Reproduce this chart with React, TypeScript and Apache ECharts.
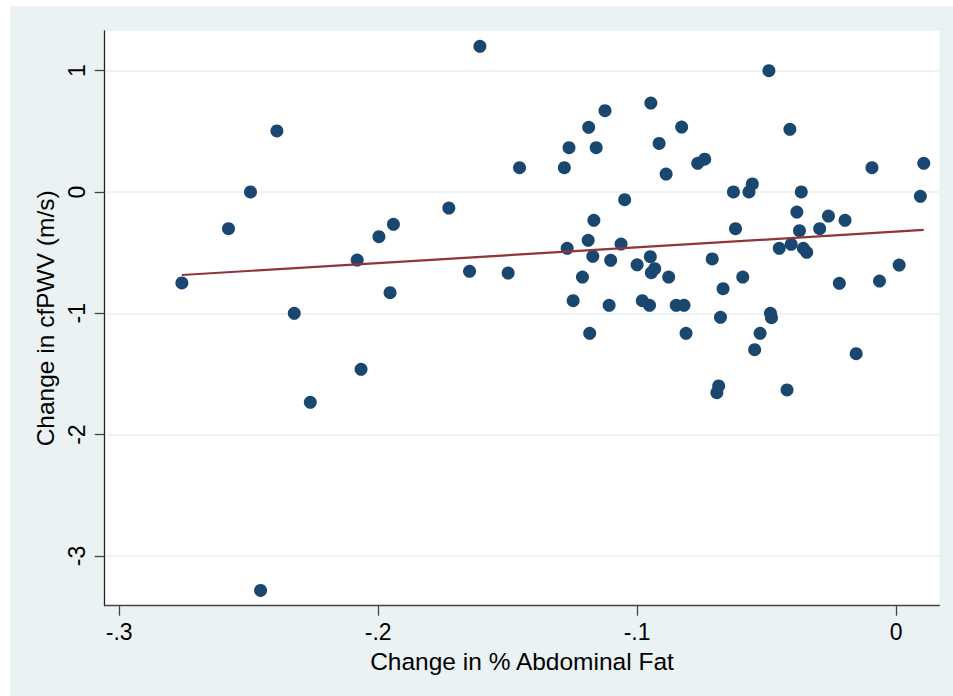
import React, { useEffect, useRef } from "react";
import * as echarts from "echarts";

// Change in % abdominal fat (x) and change in cfPWV in m/s (y), one entry per participant
const fatChange = [
  -0.2758, -0.2578, -0.2493, -0.2454, -0.2391, -0.2324, -0.2262, -0.2081, -0.2066, -0.1997,
  -0.1954, -0.1941, -0.1727, -0.1647, -0.1607, -0.1498, -0.1454, -0.1281, -0.127, -0.1263,
  -0.1247, -0.1211, -0.1189, -0.1187, -0.1183, -0.1171, -0.1167, -0.1158, -0.1124, -0.1108,
  -0.1102, -0.1062, -0.1048, -0.1, -0.098, -0.0952, -0.0949, -0.0947, -0.0945, -0.0932,
  -0.0915, -0.0888, -0.0878, -0.0849, -0.0828, -0.0819, -0.0811, -0.0766, -0.0739, -0.071,
  -0.0692, -0.0685, -0.0678, -0.0668, -0.0628, -0.062, -0.0592, -0.0568, -0.0555, -0.0546,
  -0.0525, -0.0491, -0.0485, -0.0481, -0.0451, -0.0421, -0.041, -0.0405, -0.0383, -0.0373,
  -0.0366, -0.0358, -0.0345, -0.0295, -0.0261, -0.0219, -0.0197, -0.0154, -0.0093, -0.0064,
  0.0012, 0.0094, 0.0107,
];
const pwvChange = [
  -0.75, -0.302, 0.0, -3.284, 0.503, -1.0, -1.734, -0.561, -1.462, -0.368,
  -0.83, -0.266, -0.132, -0.654, 1.201, -0.668, 0.2, 0.2, -0.464, 0.365,
  -0.896, -0.701, -0.398, 0.533, -1.165, -0.53, -0.233, 0.365, 0.67, -0.934,
  -0.563, -0.429, -0.063, -0.6, -0.896, -0.934, -0.533, 0.733, -0.665, -0.632,
  0.4, 0.148, -0.701, -0.934, 0.535, -0.934, -1.165, 0.236, 0.27, -0.552,
  -1.654, -1.599, -1.033, -0.797, 0.0, -0.302, -0.701, 0.0, 0.066, -1.3,
  -1.165, 1.0, -1.0, -1.036, -0.464, -1.632, 0.517, -0.431, -0.165, -0.319,
  0.0, -0.464, -0.497, -0.302, -0.198, -0.753, -0.233, -1.333, 0.2, -0.734,
  -0.602, -0.036, 0.236,
];

// Endpoints of the linear fit line
const fitX = [-0.2758, 0.0107];
const fitY = [-0.684, -0.313];

// Axis ticks and their labels
const xTicks = [-0.3, -0.2, -0.1, 0];
const xTickLabels = ["-.3", "-.2", "-.1", "0"];
const yTicks = [-3, -2, -1, 0, 1];
const yTickLabels = ["-3", "-2", "-1", "0", "1"];

const FONT = "'Liberation Sans', Arial, Helvetica, sans-serif";

function labelFor(ticks: number[], labels: string[], v: number): string {
  const i = ticks.findIndex((t) => Math.abs(t - v) < 1e-9);
  return i >= 0 ? labels[i] : "";
}

export default function App() {
  const ref = useRef<HTMLDivElement>(null);

  useEffect(() => {
    if (!ref.current) return;
    const chart = echarts.init(ref.current, undefined, { renderer: "svg" });

    const points = fatChange.map((x, i) => [x, pwvChange[i]]);
    const fit = fitX.map((x, i) => [x, fitY[i]]);

    chart.setOption({
      animation: false,
      backgroundColor: "#ffffff",
      textStyle: { fontFamily: FONT },
      graphic: [
        {
          type: "rect",
          shape: { x: 10, y: 6, width: 943, height: 690 },
          style: { fill: "#EAF2F3" },
          z: -10,
          silent: true,
        },
      ],
      grid: {
        left: 104.7,
        right: 13.7,
        top: 31,
        bottom: 90.3,
        show: true,
        backgroundColor: "#ffffff",
        borderWidth: 0,
      },
      xAxis: {
        type: "value",
        min: -0.3056,
        max: 0.0167,
        name: "Change in % Abdominal Fat",
        nameLocation: "middle",
        nameGap: 43,
        nameTextStyle: { color: "#000", fontSize: 24.5, fontFamily: FONT },
        axisLine: { show: true, onZero: false, lineStyle: { color: "#444", width: 1.3 } },
        axisTick: { show: true, length: 10, customValues: xTicks, lineStyle: { color: "#444", width: 1.3 } },
        axisLabel: {
          customValues: xTicks,
          margin: 15,
          color: "#000",
          fontSize: 23,
          fontFamily: FONT,
          formatter: (v: number) => labelFor(xTicks, xTickLabels, v),
        },
        splitLine: { show: false },
      },
      yAxis: {
        type: "value",
        min: -3.41,
        max: 1.327,
        name: "Change in cfPWV (m/s)",
        nameLocation: "middle",
        nameGap: 43,
        nameRotate: 90,
        nameTextStyle: { color: "#000", fontSize: 24.5, fontFamily: FONT },
        axisLine: { show: true, onZero: false, lineStyle: { color: "#222", width: 1.3 } },
        axisTick: { show: true, length: 10, customValues: yTicks, lineStyle: { color: "#444", width: 1.3 } },
        axisLabel: {
          customValues: yTicks,
          rotate: 90,
          margin: 16,
          color: "#000",
          fontSize: 23,
          fontFamily: FONT,
          formatter: (v: number) => labelFor(yTicks, yTickLabels, v),
        },
        splitLine: { show: true, lineStyle: { color: "#E8F0F2", width: 1.6 } },
      },
      series: [
        {
          type: "scatter",
          data: points,
          symbol: "circle",
          symbolSize: 13,
          itemStyle: { color: "#1A476F", opacity: 1 },
          z: 3,
        },
        {
          type: "line",
          data: fit,
          symbol: "none",
          lineStyle: { color: "#90353B", width: 2.2 },
          z: 4,
        },
      ],
    });

    return () => chart.dispose();
  }, []);

  return (
    <div
      ref={ref}
      style={{ position: "absolute", left: 0, top: 0, width: 953, height: 696 }}
    />
  );
}
